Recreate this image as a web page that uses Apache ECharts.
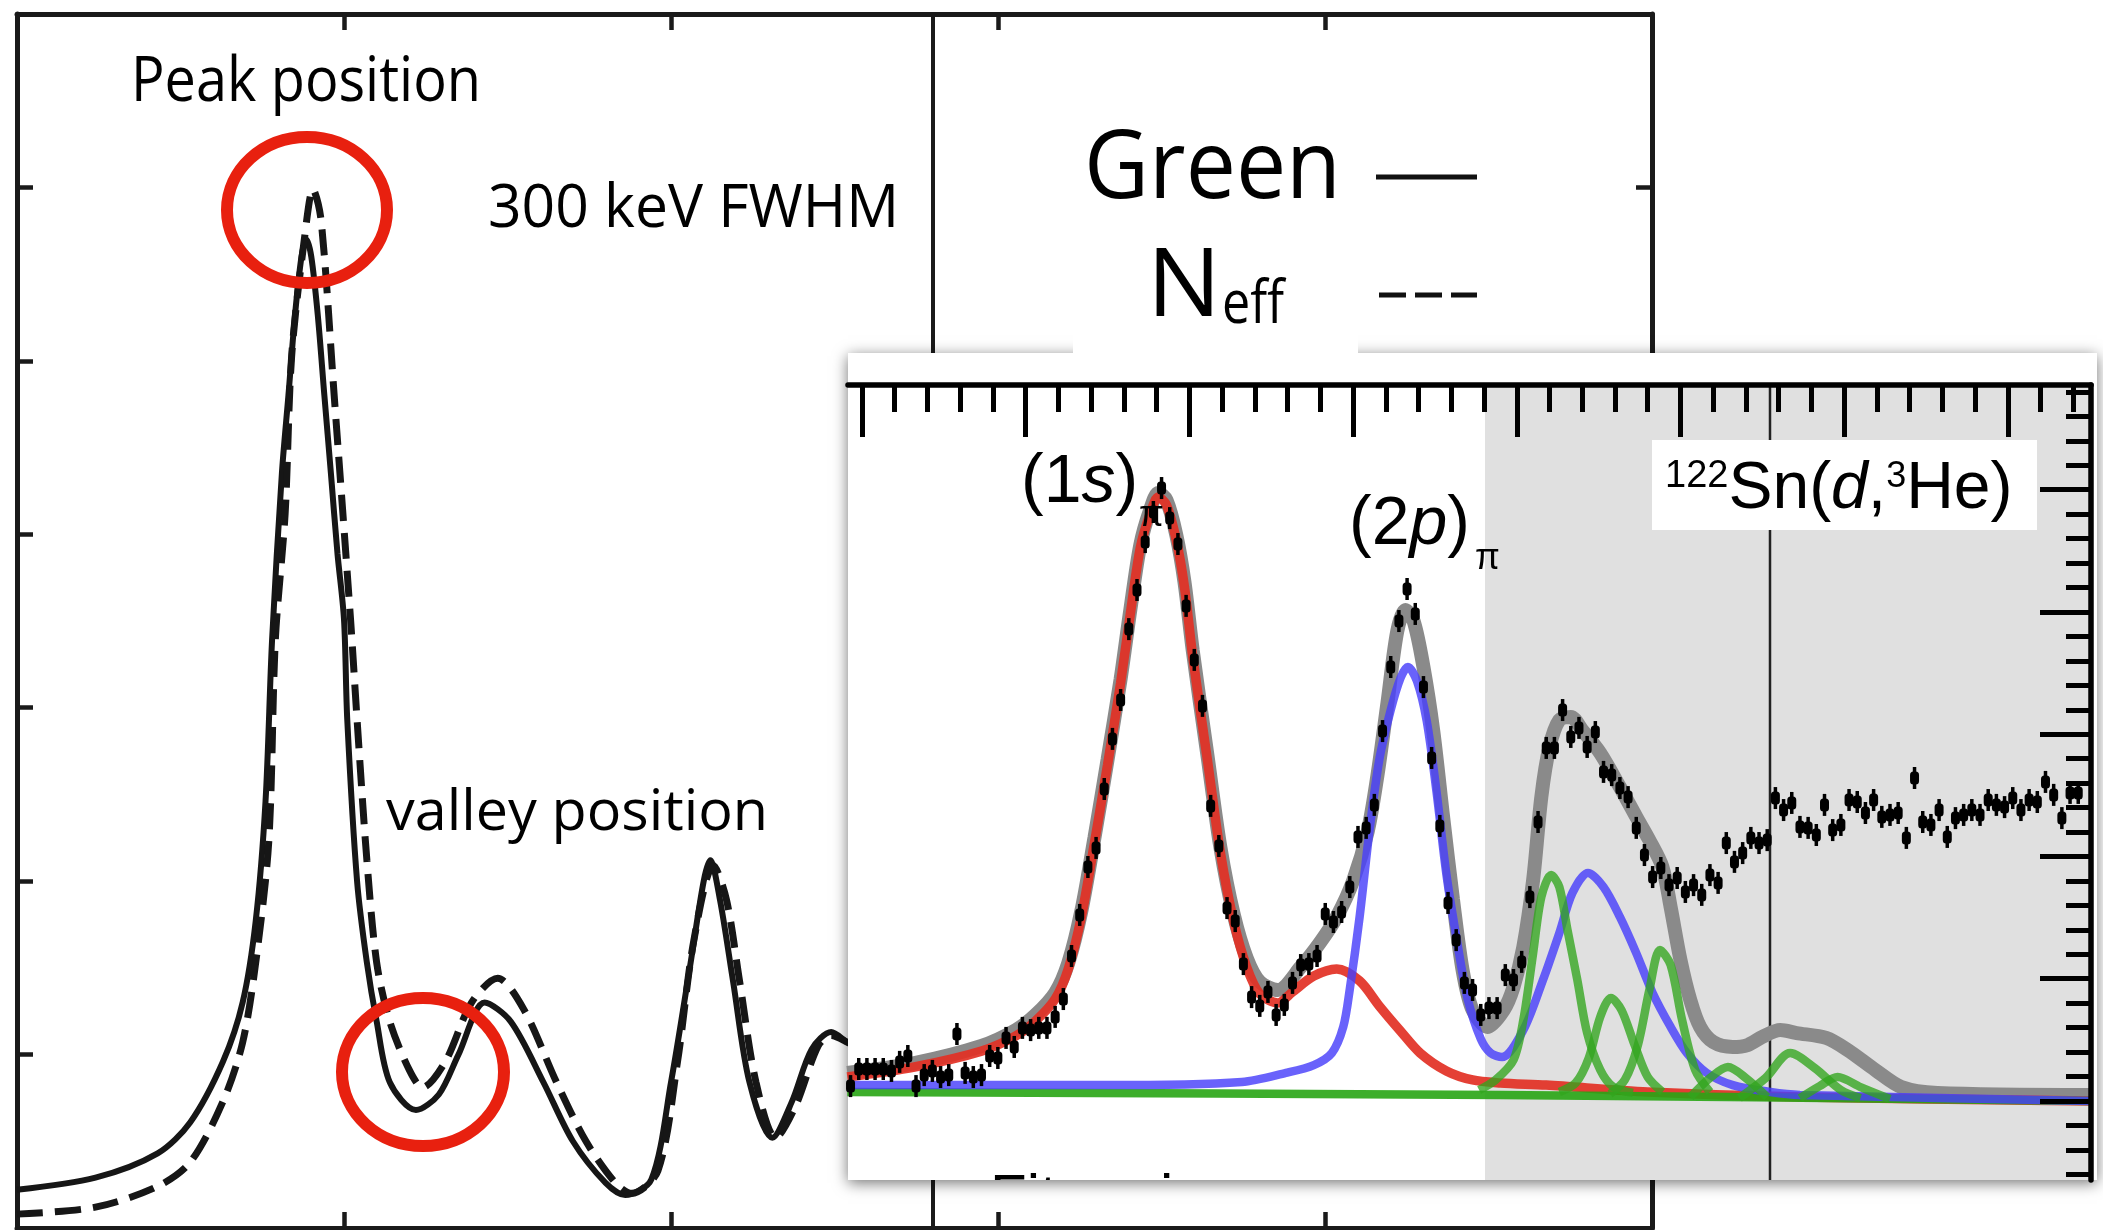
<!DOCTYPE html>
<html>
<head>
<meta charset="utf-8">
<script src="https://cdn.jsdelivr.net/npm/echarts@6/dist/echarts.min.js"></script>
<style>
  html, body { margin: 0; padding: 0; background: #fff; }
  #chart { width: 2103px; height: 1230px; }
</style>
</head>
<body>
<div id="chart"></div>
<script>
// ---------- main panel: response curves (x: 0..5, y: 0..7) ----------
const GREEN_CURVE = [
  [0.00,0.22],[0.24,0.29],[0.43,0.43],[0.53,0.61],[0.63,0.96],[0.69,1.30],[0.73,1.77],[0.76,2.46],
  [0.78,3.39],[0.81,4.35],[0.83,4.80],[0.85,5.26],[0.87,5.60],[0.885,5.70],[0.90,5.60],[0.92,5.26],
  [0.94,4.80],[0.96,4.35],[0.98,3.89],[1.00,3.51],[1.01,2.93],[1.04,2.00],[1.07,1.53],[1.10,1.19],
  [1.14,0.84],[1.22,0.68],[1.29,0.77],[1.35,1.00],[1.43,1.30],[1.51,1.19],[1.61,0.84],[1.70,0.50],
  [1.80,0.26],[1.86,0.19],[1.94,0.28],[2.00,0.84],[2.06,1.53],[2.10,2.00],[2.12,2.12],[2.15,1.89],
  [2.19,1.42],[2.24,0.84],[2.31,0.52],[2.37,0.73],[2.43,1.03],[2.49,1.13],[2.54,1.07],[2.64,0.97]
];
const NEFF_CURVE = [
  [0.00,0.08],[0.24,0.12],[0.43,0.24],[0.53,0.38],[0.63,0.73],[0.69,1.07],[0.73,1.53],[0.77,2.23],
  [0.79,3.39],[0.82,4.12],[0.84,5.03],[0.88,5.72],[0.905,5.99],[0.93,5.81],[0.97,4.80],[1.02,3.51],
  [1.04,2.93],[1.07,2.12],[1.10,1.53],[1.14,1.19],[1.20,0.91],[1.24,0.81],[1.31,0.96],[1.39,1.30],
  [1.47,1.44],[1.55,1.26],[1.65,0.84],[1.74,0.50],[1.83,0.26],[1.88,0.20],[1.96,0.33],[2.02,0.96],
  [2.07,1.66],[2.13,2.09],[2.17,1.89],[2.21,1.42],[2.26,0.84],[2.32,0.52],[2.38,0.70],[2.45,1.05],
  [2.49,1.11],[2.54,1.07],[2.64,0.97]
];
const PANEL_DIVIDER = 2.8;

// ---------- inset: 122Sn(d,3He) spectrum ----------
const BIN_X = [
  -0.07,-0.02,0.03,0.08,0.13,0.18,0.23,0.28,0.33,0.38, 0.43,0.48,0.53,0.58,0.63,0.68,0.73,0.78,0.83,0.88,
  0.93,0.98,1.03,1.08,1.13,1.18,1.23,1.28,1.33,1.38, 1.43,1.48,1.53,1.58,1.63,1.68,1.73,1.78,1.83,1.88,
  1.93,1.98,2.03,2.08,2.13,2.18,2.23,2.28,2.33,2.38, 2.43,2.48,2.53,2.58,2.63,2.68,2.73,2.78,2.83,2.88,
  2.93,2.98,3.03,3.08,3.13,3.18,3.23,3.28,3.33,3.38, 3.43,3.48,3.53,3.58,3.63,3.68,3.73,3.78,3.83,3.88,
  3.93,3.98,4.03,4.08,4.13,4.18,4.23,4.28,4.33,4.38, 4.43,4.48,4.53,4.58,4.63,4.68,4.73,4.78,4.83,4.88,
  4.93,4.98,5.03,5.08,5.13,5.18,5.23,5.28,5.33,5.38, 5.43,5.48,5.53,5.58,5.63,5.68,5.73,5.78,5.83,5.88,
  5.93,5.98,6.03,6.08,6.13,6.18,6.23,6.28,6.33,6.38, 6.43,6.48,6.53,6.58,6.63,6.68,6.73,6.78,6.83,6.88,
  6.93,6.98,7.03,7.08,7.13,7.18,7.23,7.28,7.33,7.38, 7.43
];
const COUNTS = [
  0.61,1.31,1.31,1.31,1.31,1.23,1.60,1.84,0.61,1.06, 1.23,0.98,1.06,2.74,1.15,0.98,1.06,1.84,1.76,2.58,
  2.21,2.99,2.90,2.99,2.99,3.44,4.17,5.93,7.61,9.57, 10.35,12.76,14.81,16.40,19.30,20.90,22.86,24.09,25.07,23.84,
  22.78,20.25,18.04,16.16,12.07,10.43,7.89,7.36,5.60,4.25, 3.89,4.46,3.52,3.93,4.83,5.56,5.60,5.93,7.65,7.32,
  7.73,8.75,10.80,11.17,12.11,15.13,17.75,19.63,20.94,19.92, 16.93,14.03,11.25,8.10,6.58,4.83,4.54,3.52,3.80,3.80,
  5.15,4.95,5.69,8.34,11.41,14.44,14.44,15.99,14.89,15.26, 14.48,15.09,13.46,13.33,12.80,12.43,11.17,10.06,9.16,9.53,
  8.83,9.12,8.55,8.83,8.43,9.24,8.92,10.55,9.78,10.14, 10.76,10.55,10.67,12.39,11.90,12.19,11.21,11.17,10.88,12.11,
  11.08,11.29,12.31,12.23,11.78,12.31,11.62,11.70,11.78,10.76, 13.21,11.41,11.29,11.90,10.80,11.57,11.70,11.90,11.70,12.31,
  12.11,12.02,12.39,11.90,12.31,12.23,13.05,12.52,11.57,12.60, 12.60
];
const ERR = 0.45;

const FIT_TOTAL = [
  [-0.09,1.15],[0.32,1.55],[0.73,2.25],[0.94,2.90],[1.06,3.52],[1.18,4.42],[1.26,5.64],[1.34,7.77],
  [1.42,10.76],[1.50,13.95],[1.58,17.26],[1.64,20.12],[1.70,22.74],[1.76,24.17],[1.81,24.87],[1.86,24.58],
  [1.92,23.15],[1.97,21.23],[2.02,18.45],[2.11,14.15],[2.19,10.35],[2.27,7.65],[2.35,5.85],[2.43,4.87],
  [2.54,4.54],[2.68,5.48],[2.80,6.50],[2.90,7.53],[3.00,9.00],[3.09,11.04],[3.15,13.37],[3.21,16.28],
  [3.27,19.22],[3.32,20.08],[3.37,19.63],[3.43,17.75],[3.49,15.13],[3.55,11.62],[3.61,8.26],[3.67,5.32],
  [3.73,3.72],[3.82,3.03],[3.92,3.72],[3.98,4.66],[4.04,6.30],[4.10,9.04],[4.15,12.43],[4.20,14.48],
  [4.26,15.58],[4.33,15.71],[4.40,15.17],[4.51,14.23],[4.63,12.84],[4.73,11.62],[4.81,10.67],[4.89,9.57],
  [4.94,7.93],[5.00,5.77],[5.06,4.13],[5.12,3.03],[5.20,2.41],[5.32,2.21],[5.41,2.29],[5.50,2.62],
  [5.61,2.90],[5.71,2.78],[5.89,2.58],[6.02,2.09],[6.19,1.27],[6.35,0.57],[6.57,0.33],[7.51,0.25]
];
const FIT_1S = [
  [-0.09,0.98],[0.32,1.39],[0.73,2.04],[0.94,2.66],[1.06,3.27],[1.18,4.17],[1.26,5.40],[1.34,7.53],
  [1.42,10.55],[1.50,13.74],[1.58,17.10],[1.64,19.96],[1.70,22.62],[1.76,24.01],[1.81,24.70],[1.86,24.38],
  [1.92,22.94],[1.97,21.02],[2.02,18.20],[2.11,13.95],[2.19,10.14],[2.27,7.36],[2.35,5.48],[2.43,4.38],
  [2.54,4.01],[2.63,4.46],[2.76,5.11],[2.90,5.40],[3.04,4.91],[3.16,3.89],[3.29,2.86],[3.41,1.96],
  [3.57,1.23],[3.73,0.86],[3.90,0.74],[4.18,0.65],[4.80,0.37],[5.73,0.16],[7.51,0.00]
];
const FIT_2P = [
  [-0.09,0.65],[0.70,0.65],[1.50,0.65],[2.32,0.78],[2.59,1.15],[2.76,1.47],[2.87,1.96],[2.94,3.03],
  [2.98,4.58],[3.04,7.53],[3.10,11.04],[3.16,13.95],[3.23,15.99],[3.29,17.30],[3.335,17.75],[3.39,17.18],
  [3.45,15.54],[3.51,12.64],[3.57,9.28],[3.64,6.34],[3.70,4.17],[3.78,2.54],[3.84,1.96],[3.91,1.80],
  [4.04,2.90],[4.16,4.95],[4.26,6.87],[4.34,8.51],[4.435,9.33],[4.53,8.75],[4.63,7.53],[4.73,6.05],
  [4.83,4.42],[4.94,3.03],[5.04,1.96],[5.16,1.15],[5.32,0.65],[5.55,0.37],[5.73,0.25],[7.51,0.00]
];
const FIT_BG = [[-0.09,0.37],[3.90,0.25],[7.51,0.00]];
const FIT_G1 = [[3.77,0.45],[3.87,0.86],[3.98,1.68],[4.04,3.31],[4.10,6.05],[4.15,8.34],[4.21,9.24],[4.26,8.75],[4.31,6.99],[4.37,4.95],[4.43,2.78],[4.51,1.27],[4.59,0.57],[4.71,0.33]];
const FIT_G2 = [[4.26,0.37],[4.36,0.74],[4.44,1.76],[4.51,3.44],[4.575,4.21],[4.64,3.72],[4.72,2.29],[4.80,0.98],[4.89,0.37]];
const FIT_G3 = [[4.57,0.29],[4.66,0.86],[4.74,2.29],[4.81,4.54],[4.875,6.18],[4.94,5.56],[5.01,3.31],[5.09,1.27],[5.18,0.37]];
const FIT_G4 = [[5.06,0.16],[5.18,0.94],[5.29,1.39],[5.40,0.94],[5.53,0.16]];
const FIT_G5 = [[5.36,0.12],[5.52,0.94],[5.67,1.96],[5.82,1.35],[5.98,0.45],[6.10,0.12]];
const FIT_G6 = [[5.73,0.12],[5.85,0.61],[5.96,0.98],[6.10,0.57],[6.28,0.08]];

const SHADE_FROM = 3.806;
const REF_LINE = 5.547;
const INSET_MAJOR_X = [0,1,2,3,4,5,6,7];
const INSET_MINOR_X = [0.2,0.4,0.6,0.8,1.2,1.4,1.6,1.8,2.2,2.4,2.6,2.8,3.2,3.4,3.6,3.8,4.2,4.4,4.6,4.8,5.2,5.4,5.6,5.8,6.2,6.4,6.6,6.8,7.2,7.4];
const INSET_MAJOR_Y = [0,5,10,15,20,25];
const INSET_MINOR_Y = [-3,-2,-1,1,2,3,4,6,7,8,9,11,12,13,14,16,17,18,19,21,22,23,24,26,27,28,29];
const IX_MIN = -0.0855, IX_MAX = 7.508;
const IY_MIN = -3.231, IY_MAX = 29.284;

// ---------- text helpers ----------
const mctx = document.createElement('canvas').getContext('2d');
function textEl(x, base, str, font, opts) {
  opts = opts || {};
  mctx.font = font;
  mctx.textBaseline = 'middle';
  const w = mctx.measureText(str).width;
  const d = mctx.measureText('H').actualBoundingBoxDescent;
  const el = {
    type: 'text', x: x, y: base - d, z: opts.z || 5, silent: true,
    style: { text: str, font: font, fill: opts.fill || '#000', align: 'left', verticalAlign: 'middle' }
  };
  let sx = 1;
  if (opts.width) { sx = opts.width / w; el.scaleX = sx; }
  return { el: el, w: w * sx };
}
function runs(x, base, parts, family, z) {
  const out = [];
  let cx = x;
  parts.forEach(function (p) {
    const font = (p.italic ? 'italic ' : '') + p.size + 'px ' + family;
    const r = textEl(cx, base + (p.dy || 0), p.t, font, { z: z });
    out.push(r.el);
    cx += r.w;
  });
  return out;
}

const OPEN = '"Open Sans", "Noto Sans", sans-serif';
const HELV = '"Liberation Sans", Arial, sans-serif';

const graphics = [];
// inset card with drop shadow
graphics.push({
  type: 'rect', z: 10, silent: true,
  shape: { x: 848, y: 353, width: 1249, height: 827 },
  style: { fill: '#fff', shadowBlur: 14, shadowColor: 'rgba(0,0,0,0.55)', shadowOffsetX: 0, shadowOffsetY: 3 }
});
// legend backing
graphics.push({ type: 'rect', z: 11, silent: true, shape: { x: 1073, y: 333, width: 285, height: 20 }, style: { fill: '#fff' } });

// annotations on the main panel
graphics.push(textEl(131, 101, 'Peak position', '62px ' + OPEN, { width: 350 }).el);
graphics.push(textEl(488, 227, '300 keV FWHM', '60px ' + OPEN, { width: 411 }).el);
graphics.push(textEl(386, 830, 'valley position', '56px ' + OPEN, { width: 382 }).el);
graphics.push({ type: 'ellipse', z: 6, silent: true, shape: { cx: 307, cy: 210, rx: 80, ry: 73 }, style: { fill: 'none', stroke: '#e8200f', lineWidth: 12 } });
graphics.push({ type: 'ellipse', z: 6, silent: true, shape: { cx: 423, cy: 1072, rx: 81, ry: 74 }, style: { fill: 'none', stroke: '#e8200f', lineWidth: 12 } });

// legend
graphics.push(textEl(1084, 198, 'Green', '95px ' + OPEN, { width: 257 }).el);
graphics.push(textEl(1147, 316, 'N', '96px ' + OPEN, { width: 74 }).el);
graphics.push(textEl(1222, 323, 'eff', '60px ' + OPEN, { width: 62 }).el);
graphics.push({ type: 'line', z: 5, silent: true, shape: { x1: 1376, y1: 177, x2: 1477, y2: 177 }, style: { stroke: '#111', lineWidth: 5 } });
graphics.push({ type: 'line', z: 5, silent: true, shape: { x1: 1379, y1: 295, x2: 1477, y2: 295 }, style: { stroke: '#111', lineWidth: 5, lineDash: [27, 9] } });

// inset labels
runs(1021, 502, [{ t: '(1', size: 68 }, { t: 's', size: 68, italic: true }, { t: ')', size: 68 }], HELV, 21).forEach(function (e) { graphics.push(e); });
graphics.push(textEl(1139, 526, 'π', '36px ' + HELV, { z: 21 }).el);
runs(1349, 544, [{ t: '(2', size: 68 }, { t: 'p', size: 68, italic: true }, { t: ')', size: 68 }], HELV, 21).forEach(function (e) { graphics.push(e); });
graphics.push(textEl(1475, 569, 'π', '36px ' + HELV, { z: 21 }).el);
graphics.push({ type: 'rect', z: 20, silent: true, shape: { x: 1652, y: 440, width: 385, height: 90 }, style: { fill: '#fff' } });
runs(1665, 508, [
  { t: '122', size: 38, dy: -21 }, { t: 'Sn(', size: 66 }, { t: 'd', size: 66, italic: true },
  { t: ',', size: 66 }, { t: '3', size: 36, dy: -21 }, { t: 'He)', size: 66 }
], HELV, 21).forEach(function (e) { graphics.push(e); });

// ---------- chart ----------
const chart = echarts.init(document.getElementById('chart'), null, { renderer: 'canvas', width: 2103, height: 1230 });

function frameAxis(extra) {
  return Object.assign({
    type: 'value', gridIndex: 0, interval: 1,
    axisLine: { show: true, onZero: false, lineStyle: { color: '#1a1a1a', width: 5 } },
    axisTick: { show: true, inside: true, length: 16, lineStyle: { color: '#1a1a1a', width: 4.5 } },
    axisLabel: { show: false }, splitLine: { show: false }, z: 0
  }, extra);
}
function insetAxis(extra, ticks, len, showLine) {
  return Object.assign({
    type: 'value', gridIndex: 1,
    axisLine: { show: showLine, onZero: false, lineStyle: { color: '#000', width: 5.5 } },
    axisTick: { show: true, inside: true, length: len, customValues: ticks, lineStyle: { color: '#000', width: 5 } },
    axisLabel: { show: false }, splitLine: { show: false }, z: 30
  }, extra);
}

function insetLine(data, color, width, z) {
  return {
    type: 'line', xAxisIndex: 2, yAxisIndex: 2, data: data, smooth: 0.3,
    symbol: 'none', showSymbol: false, silent: true, z: z,
    lineStyle: { color: color, width: width }
  };
}

const option = {
  animation: false,
  backgroundColor: '#fff',
  grid: [
    { left: 17, top: 14, width: 1635, height: 1214 },
    { left: 848, top: 385, width: 1243, height: 795 }
  ],
  xAxis: [
    frameAxis({ min: 0, max: 5, position: 'bottom' }),
    frameAxis({ min: 0, max: 5, position: 'top' }),
    insetAxis({ min: IX_MIN, max: IX_MAX, position: 'top' }, INSET_MAJOR_X, 52, true),
    insetAxis({ min: IX_MIN, max: IX_MAX, position: 'top' }, INSET_MINOR_X, 27, false)
  ],
  yAxis: [
    frameAxis({ min: 0, max: 7, position: 'left' }),
    frameAxis({ min: 0, max: 7, position: 'right' }),
    insetAxis({ min: IY_MIN, max: IY_MAX, position: 'right' }, INSET_MAJOR_Y, 51, true),
    insetAxis({ min: IY_MIN, max: IY_MAX, position: 'right' }, INSET_MINOR_Y, 25, false)
  ],
  graphic: { elements: graphics },
  series: [
    {
      type: 'line', xAxisIndex: 0, yAxisIndex: 0, data: GREEN_CURVE, smooth: 0.3,
      symbol: 'none', showSymbol: false, silent: true, z: 2,
      lineStyle: { color: '#161616', width: 6 },
      markLine: {
        silent: true, symbol: 'none', label: { show: false },
        lineStyle: { color: '#1a1a1a', width: 4, type: 'solid' },
        data: [{ xAxis: PANEL_DIVIDER }]
      }
    },
    {
      type: 'line', xAxisIndex: 0, yAxisIndex: 0, data: NEFF_CURVE, smooth: 0.3,
      symbol: 'none', showSymbol: false, silent: true, z: 2,
      lineStyle: { color: '#161616', width: 7, type: [26, 12] }
    },
    // shaded part of the spectrum
    {
      type: 'custom', xAxisIndex: 2, yAxisIndex: 2, z: 12, silent: true,
      data: [[SHADE_FROM, 0]],
      renderItem: function (params, api) {
        const a = api.coord([SHADE_FROM, IY_MAX]);
        const b = api.coord([IX_MAX, IY_MIN]);
        return { type: 'rect', shape: { x: a[0], y: a[1], width: b[0] - a[0], height: b[1] - a[1] }, style: { fill: '#e0e0e0' } };
      }
    },
    // reference line
    {
      type: 'custom', xAxisIndex: 2, yAxisIndex: 2, z: 13, silent: true,
      data: [[REF_LINE, 0]],
      renderItem: function (params, api) {
        const a = api.coord([REF_LINE, IY_MAX]);
        const b = api.coord([REF_LINE, IY_MIN]);
        return { type: 'line', shape: { x1: a[0], y1: a[1], x2: b[0], y2: b[1] }, style: { stroke: '#222', lineWidth: 2.5 } };
      }
    },
    insetLine(FIT_TOTAL, '#8a8a8a', 14, 14),
    insetLine(FIT_1S, 'rgba(226,48,36,0.92)', 9.5, 15),
    insetLine(FIT_BG, 'rgba(40,165,20,0.9)', 8.5, 16),
    insetLine(FIT_2P, 'rgba(72,64,250,0.82)', 8.5, 17),
    insetLine(FIT_G1, 'rgba(50,165,30,0.78)', 8.5, 18),
    insetLine(FIT_G2, 'rgba(50,165,30,0.78)', 8.5, 18),
    insetLine(FIT_G3, 'rgba(50,165,30,0.78)', 8.5, 18),
    insetLine(FIT_G4, 'rgba(50,165,30,0.78)', 8.5, 18),
    insetLine(FIT_G5, 'rgba(50,165,30,0.78)', 8.5, 18),
    insetLine(FIT_G6, 'rgba(50,165,30,0.78)', 8.5, 18),
    // measured spectrum with error bars
    {
      type: 'custom', xAxisIndex: 2, yAxisIndex: 2, z: 19, silent: true,
      data: BIN_X.map(function (x, i) { return [x, COUNTS[i]]; }),
      renderItem: function (params, api) {
        const x = api.value(0), y = api.value(1);
        const c = api.coord([x, y]);
        const t = api.coord([x, y + ERR]);
        const b = api.coord([x, y - ERR]);
        return {
          type: 'group', children: [
            { type: 'line', shape: { x1: c[0], y1: t[1], x2: c[0], y2: b[1] }, style: { stroke: '#000', lineWidth: 3.5 } },
            { type: 'rect', shape: { x: c[0] - 4.5, y: c[1] - 6.5, width: 9, height: 13, r: 3.5 }, style: { fill: '#000' } }
          ]
        };
      }
    },
    // axis caption cut by the lower edge of the inset
    {
      type: 'custom', xAxisIndex: 2, yAxisIndex: 2, z: 19, silent: true, clip: true,
      data: [[0.782, -4.69]],
      renderItem: function (params, api) {
        const p = api.coord([api.value(0), api.value(1)]);
        const font = '60px ' + HELV;
        mctx.font = font; mctx.textBaseline = 'middle';
        const d = mctx.measureText('H').actualBoundingBoxDescent;
        return { type: 'text', x: p[0], y: p[1] - d, style: { text: 'Fit region', font: font, fill: '#000', align: 'left', verticalAlign: 'middle' } };
      }
    }
  ]
};
chart.setOption(option);
</script>
</body>
</html>
